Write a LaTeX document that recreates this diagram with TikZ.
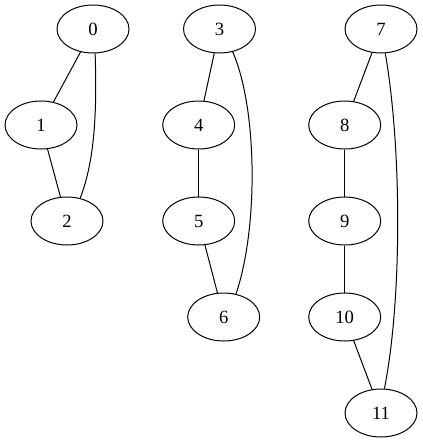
\documentclass[tikz,border=0pt]{standalone}
\usepackage{fontspec}
\setmainfont{Liberation Serif}
\usetikzlibrary{shapes.geometric}
\begin{document}
\begin{tikzpicture}[x=0.75pt,y=-0.75pt,
  vtx/.style={draw,ellipse,line width=0.75pt,minimum width=54pt,minimum height=36pt,inner sep=0pt,font=\fontsize{14}{16}\selectfont},
  edge/.style={line width=0.75pt}]
\useasboundingbox (0,0) rectangle (423,443);
\node[vtx] (n0) at (93,29) {0};
\node[vtx] (n1) at (41,125) {1};
\node[vtx] (n2) at (67,221) {2};
\node[vtx] (n3) at (219.5,29) {3};
\node[vtx] (n4) at (198.7,125) {4};
\node[vtx] (n5) at (198.7,221) {5};
\node[vtx] (n6) at (223.7,317) {6};
\node[vtx] (n7) at (381,29) {7};
\node[vtx] (n8) at (344.7,125) {8};
\node[vtx] (n9) at (344.7,221) {9};
\node[vtx] (n10) at (344.7,317) {10};
\node[vtx] (n11) at (381,413) {11};
\draw[edge] (n0) -- (n1);
\draw[edge] (n1) -- (n2);
\draw[edge] (n0.-85) .. controls (97,110) and (95,160) .. (n2.60);
\draw[edge] (n3) -- (n4);
\draw[edge] (n4) -- (n5);
\draw[edge] (n5) -- (n6);
\draw[edge] (n3.-60) .. controls (258,110) and (258,230) .. (n6.62);
\draw[edge] (n7) -- (n8);
\draw[edge] (n8) -- (n9);
\draw[edge] (n9) -- (n10);
\draw[edge] (n10) -- (n11);
\draw[edge] (n7.-80) .. controls (402,150) and (402,300) .. (n11.82);
\end{tikzpicture}
\end{document}
